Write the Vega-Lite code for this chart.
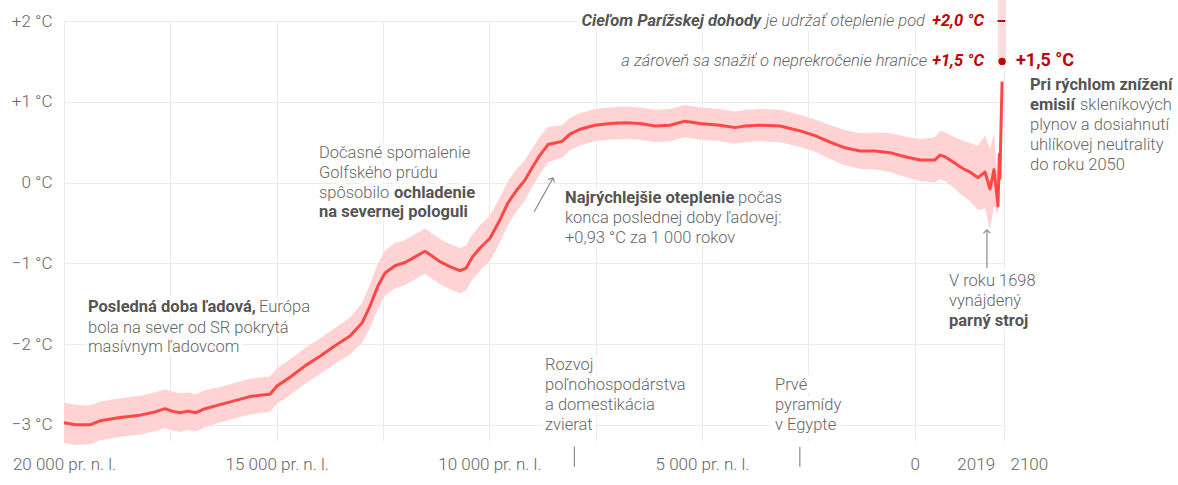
{
  "$schema": "https://vega.github.io/schema/vega-lite/v6.json",
  "autosize": "none",
  "width": 940,
  "height": 420,
  "padding": {"top": 21, "left": 64, "right": 174, "bottom": 44},
  "config": {"font": "Roboto", "view": {"stroke": null}},
  "datasets": {
    "temp": [
      {"year": -20000, "t": -2.975, "lo": -3.225, "hi": -2.725},
      {"year": -19741, "t": -3.0, "lo": -3.25, "hi": -2.75},
      {"year": -19389, "t": -3.0, "lo": -3.24, "hi": -2.76},
      {"year": -19154, "t": -2.95, "lo": -3.19, "hi": -2.71},
      {"year": -18683, "t": -2.91, "lo": -3.15, "hi": -2.67},
      {"year": -18213, "t": -2.88, "lo": -3.12, "hi": -2.64},
      {"year": -17861, "t": -2.84, "lo": -3.08, "hi": -2.6},
      {"year": -17625, "t": -2.8, "lo": -3.04, "hi": -2.56},
      {"year": -17461, "t": -2.83, "lo": -3.07, "hi": -2.59},
      {"year": -17273, "t": -2.85, "lo": -3.09, "hi": -2.61},
      {"year": -17085, "t": -2.83, "lo": -3.06, "hi": -2.6},
      {"year": -16897, "t": -2.85, "lo": -3.08, "hi": -2.62},
      {"year": -16685, "t": -2.8, "lo": -3.03, "hi": -2.57},
      {"year": -16332, "t": -2.75, "lo": -2.97, "hi": -2.53},
      {"year": -15980, "t": -2.7, "lo": -2.92, "hi": -2.48},
      {"year": -15627, "t": -2.65, "lo": -2.87, "hi": -2.43},
      {"year": -15345, "t": -2.63, "lo": -2.85, "hi": -2.41},
      {"year": -15157, "t": -2.62, "lo": -2.84, "hi": -2.4},
      {"year": -14992, "t": -2.52, "lo": -2.74, "hi": -2.3},
      {"year": -14687, "t": -2.41, "lo": -2.63, "hi": -2.19},
      {"year": -14334, "t": -2.27, "lo": -2.49, "hi": -2.05},
      {"year": -13981, "t": -2.15, "lo": -2.37, "hi": -1.93},
      {"year": -13629, "t": -2.02, "lo": -2.24, "hi": -1.8},
      {"year": -13276, "t": -1.9, "lo": -2.13, "hi": -1.67},
      {"year": -12994, "t": -1.74, "lo": -1.99, "hi": -1.49},
      {"year": -12806, "t": -1.53, "lo": -1.8, "hi": -1.26},
      {"year": -12618, "t": -1.28, "lo": -1.56, "hi": -1.0},
      {"year": -12453, "t": -1.12, "lo": -1.4, "hi": -0.84},
      {"year": -12218, "t": -1.03, "lo": -1.31, "hi": -0.75},
      {"year": -11983, "t": -0.99, "lo": -1.27, "hi": -0.71},
      {"year": -11748, "t": -0.92, "lo": -1.2, "hi": -0.64},
      {"year": -11513, "t": -0.85, "lo": -1.13, "hi": -0.57},
      {"year": -11348, "t": -0.91, "lo": -1.19, "hi": -0.63},
      {"year": -11160, "t": -0.98, "lo": -1.26, "hi": -0.7},
      {"year": -10925, "t": -1.04, "lo": -1.32, "hi": -0.76},
      {"year": -10690, "t": -1.09, "lo": -1.37, "hi": -0.81},
      {"year": -10549, "t": -1.06, "lo": -1.34, "hi": -0.78},
      {"year": -10408, "t": -0.93, "lo": -1.21, "hi": -0.65},
      {"year": -10220, "t": -0.81, "lo": -1.09, "hi": -0.53},
      {"year": -9985, "t": -0.69, "lo": -0.97, "hi": -0.41},
      {"year": -9749, "t": -0.46, "lo": -0.74, "hi": -0.18},
      {"year": -9561, "t": -0.25, "lo": -0.52, "hi": 0.02},
      {"year": -9350, "t": -0.09, "lo": -0.35, "hi": 0.17},
      {"year": -9162, "t": 0.03, "lo": -0.22, "hi": 0.28},
      {"year": -8997, "t": 0.18, "lo": -0.06, "hi": 0.42},
      {"year": -8809, "t": 0.34, "lo": 0.11, "hi": 0.57},
      {"year": -8621, "t": 0.47, "lo": 0.25, "hi": 0.69},
      {"year": -8457, "t": 0.49, "lo": 0.28, "hi": 0.7},
      {"year": -8292, "t": 0.51, "lo": 0.31, "hi": 0.71},
      {"year": -8104, "t": 0.6, "lo": 0.4, "hi": 0.8},
      {"year": -7869, "t": 0.66, "lo": 0.46, "hi": 0.86},
      {"year": -7516, "t": 0.71, "lo": 0.51, "hi": 0.91},
      {"year": -7163, "t": 0.73, "lo": 0.53, "hi": 0.93},
      {"year": -6811, "t": 0.74, "lo": 0.54, "hi": 0.94},
      {"year": -6458, "t": 0.73, "lo": 0.53, "hi": 0.93},
      {"year": -6105, "t": 0.7, "lo": 0.5, "hi": 0.9},
      {"year": -5753, "t": 0.71, "lo": 0.51, "hi": 0.91},
      {"year": -5400, "t": 0.76, "lo": 0.56, "hi": 0.96},
      {"year": -5047, "t": 0.73, "lo": 0.53, "hi": 0.93},
      {"year": -4577, "t": 0.71, "lo": 0.51, "hi": 0.91},
      {"year": -4224, "t": 0.68, "lo": 0.48, "hi": 0.88},
      {"year": -3989, "t": 0.7, "lo": 0.5, "hi": 0.9},
      {"year": -3637, "t": 0.71, "lo": 0.51, "hi": 0.91},
      {"year": -3166, "t": 0.7, "lo": 0.5, "hi": 0.9},
      {"year": -2696, "t": 0.64, "lo": 0.44, "hi": 0.84},
      {"year": -2344, "t": 0.58, "lo": 0.38, "hi": 0.78},
      {"year": -1991, "t": 0.5, "lo": 0.29, "hi": 0.71},
      {"year": -1638, "t": 0.43, "lo": 0.21, "hi": 0.65},
      {"year": -1285, "t": 0.39, "lo": 0.17, "hi": 0.61},
      {"year": -933, "t": 0.39, "lo": 0.16, "hi": 0.62},
      {"year": -580, "t": 0.37, "lo": 0.13, "hi": 0.61},
      {"year": -228, "t": 0.32, "lo": 0.07, "hi": 0.57},
      {"year": 125, "t": 0.28, "lo": 0.02, "hi": 0.54},
      {"year": 478, "t": 0.28, "lo": 0.0, "hi": 0.56},
      {"year": 595, "t": 0.34, "lo": 0.04, "hi": 0.64},
      {"year": 713, "t": 0.32, "lo": 0.02, "hi": 0.62},
      {"year": 948, "t": 0.24, "lo": -0.08, "hi": 0.56},
      {"year": 1113, "t": 0.18, "lo": -0.16, "hi": 0.52},
      {"year": 1301, "t": 0.13, "lo": -0.23, "hi": 0.49},
      {"year": 1489, "t": 0.06, "lo": -0.34, "hi": 0.46},
      {"year": 1654, "t": 0.13, "lo": -0.32, "hi": 0.58},
      {"year": 1771, "t": -0.08, "lo": -0.58, "hi": 0.42},
      {"year": 1865, "t": 0.16, "lo": -0.29, "hi": 0.61},
      {"year": 1959, "t": -0.29, "lo": -0.4, "hi": 0.0},
      {"year": 1990, "t": 0.35, "lo": null, "hi": null},
      {"year": 2005, "t": 0.05, "lo": null, "hi": null},
      {"year": 2019, "t": 0.45, "lo": null, "hi": null},
      {"year": 2055, "t": 1.25, "lo": null, "hi": null}
    ],
    "txtRegular": [
      {"x": -15415, "y": -1.54, "text": "Európa"},
      {"x": -19436, "y": -1.8, "text": "bola na sever od SR pokrytá"},
      {"x": -19436, "y": -2.03, "text": "masívnym ľadovcom"},
      {"x": -14005, "y": 0.366, "text": "Dočasné spomalenie"},
      {"x": -14005, "y": 0.119, "text": "Golfského prúdu"},
      {"x": -14005, "y": -0.129, "text": "spôsobilo"},
      {"x": -4154, "y": -0.191, "text": "počas"},
      {"x": -8221, "y": -0.438, "text": "konca poslednej doby ľadovej:"},
      {"x": -8221, "y": -0.686, "text": "+0,93 °C za 1 000 rokov"},
      {"x": -8691, "y": -2.257, "text": "Rozvoj"},
      {"x": -8691, "y": -2.505, "text": "poľnohospodárstva"},
      {"x": -8691, "y": -2.752, "text": "a domestikácia"},
      {"x": -8691, "y": -3.0, "text": "zvierat"},
      {"x": -3284, "y": -2.505, "text": "Prvé"},
      {"x": -3284, "y": -2.752, "text": "pyramídy"},
      {"x": -3284, "y": -3.0, "text": "v Egypte"},
      {"x": 807, "y": -1.218, "text": "V roku 1698"},
      {"x": 807, "y": -1.465, "text": "vynájdený"},
      {"x": 3887, "y": 0.96, "text": "skleníkových"},
      {"x": 2711, "y": 0.713, "text": "plynov a dosiahnutí"},
      {"x": 2711, "y": 0.465, "text": "uhlíkovej neutrality"},
      {"x": 2711, "y": 0.218, "text": "do roku 2050"}
    ],
    "txtBold": [
      {"x": -19436, "y": -1.54, "text": "Posledná doba ľadová,"},
      {"x": -12242, "y": -0.129, "text": "ochladenie"},
      {"x": -14005, "y": -0.364, "text": "na severnej pologuli"},
      {"x": -8221, "y": -0.191, "text": "Najrýchlejšie oteplenie"},
      {"x": 807, "y": -1.713, "text": "parný stroj"},
      {"x": 2711, "y": 1.208, "text": "Pri rýchlom znížení"},
      {"x": 2711, "y": 0.96, "text": "emisií"}
    ],
    "txtItalic": [
      {"x": 243, "y": 2.0, "text": "je udržať oteplenie pod"},
      {"x": 290, "y": 1.5, "text": "a zároveň sa snažiť o neprekročenie hranice"}
    ],
    "txtBoldItalic": [
      {"x": -3613, "y": 2.0, "text": "Cieľom Parížskej dohody"}
    ],
    "txtRedItalic": [
      {"x": 1630, "y": 2.0, "text": "+2,0 °C"},
      {"x": 1630, "y": 1.5, "text": "+1,5 °C"}
    ],
    "txtRedBig": [
      {"x": 2382, "y": 1.5, "text": "+1,5 °C"}
    ],
    "arrows": [
      {"x": -8950, "y": -0.364, "x2": -8503, "y2": 0.057, "angle": 29},
      {"x": 1698, "y": -1.057, "x2": 1698, "y2": -0.587, "angle": 0}
    ],
    "markers": [
      {"x": -8000, "y": -3.27, "y2": -3.52},
      {"x": -2700, "y": -3.27, "y2": -3.52}
    ]
  },
  "encoding": {
    "x": {"type": "quantitative", "scale": {"domain": [-20000, 2100], "nice": false, "zero": false}},
    "y": {"type": "quantitative", "scale": {"domain": [-3.2, 2], "nice": false, "zero": false}}
  },
  "layer": [
    {
      "data": {"values": [{"a": 0}]},
      "mark": {"type": "rule", "opacity": 0},
      "encoding": {
        "x": {"datum": -20000, "type": "quantitative",
          "axis": {
            "values": [-20000, -17500, -15000, -12500, -10000, -7500, -5000, -2500, 0, 2019, 2100],
            "labelExpr": "datum.value == 2019 ? '2019' : (datum.value == 2100 ? '2100' : (datum.value == 0 ? '0' : (datum.value % 5000 == 0 ? replace(format(-datum.value, ','), ',', ' ') + ' pr. n. l.' : '')))",
            "labelAlign": {"condition": [{"test": "datum.value == 2019", "value": "right"}, {"test": "datum.value == 2100", "value": "left"}], "value": "center"},
            "labelOffset": {"condition": [{"test": "datum.value == 2019", "value": -6}, {"test": "datum.value == 2100", "value": 6}], "value": 0},
            "labelFlush": false,
            "labelOverlap": false,
            "labelBound": false,
            "title": null,
            "domain": false,
            "ticks": false,
            "labelPadding": 15,
            "labelFontSize": 17,
            "labelColor": "#666666",
            "labelFontWeight": 300,
            "grid": true,
            "gridColor": "#ebebeb",
            "gridOpacity": {"condition": {"test": "datum.value == 2019", "value": 0}, "value": 1}
          }
        },
        "y": {"datum": 0, "type": "quantitative",
          "axis": {
            "values": [-3, -2, -1, 0, 1, 2],
            "labelExpr": "datum.value > 0 ? '+' + datum.value + ' °C' : (datum.value < 0 ? '−' + (-datum.value) + ' °C' : '0 °C')",
            "title": null,
            "domain": false,
            "ticks": false,
            "labelPadding": 12,
            "labelFontSize": 17,
            "labelColor": "#666666",
            "labelFontWeight": 300,
            "grid": true,
            "gridColor": "#ebebeb"
          }
        }
      }
    },
    {"data": {"name": "txtRegular"}, "mark": {"type": "text", "align": "left", "baseline": "middle", "fontSize": 16.5, "fontWeight": 300, "stroke": "white", "strokeWidth": 9, "strokeJoin": "round", "color": "white"}, "encoding": {"x": {"field": "x"}, "y": {"field": "y"}, "text": {"field": "text"}}},
    {"data": {"name": "txtBold"}, "mark": {"type": "text", "align": "left", "baseline": "middle", "fontSize": 16.5, "fontWeight": "bold", "stroke": "white", "strokeWidth": 9, "strokeJoin": "round", "color": "white"}, "encoding": {"x": {"field": "x"}, "y": {"field": "y"}, "text": {"field": "text"}}},
    {"data": {"name": "txtItalic"}, "mark": {"type": "text", "align": "right", "baseline": "middle", "fontSize": 16.5, "fontWeight": 300, "fontStyle": "italic", "stroke": "white", "strokeWidth": 9, "strokeJoin": "round", "color": "white"}, "encoding": {"x": {"field": "x"}, "y": {"field": "y"}, "text": {"field": "text"}}},
    {"data": {"name": "txtBoldItalic"}, "mark": {"type": "text", "align": "right", "baseline": "middle", "fontSize": 16.5, "fontWeight": "bold", "fontStyle": "italic", "stroke": "white", "strokeWidth": 9, "strokeJoin": "round", "color": "white"}, "encoding": {"x": {"field": "x"}, "y": {"field": "y"}, "text": {"field": "text"}}},
    {"data": {"name": "txtRedItalic"}, "mark": {"type": "text", "align": "right", "baseline": "middle", "fontSize": 16.5, "fontWeight": "bold", "fontStyle": "italic", "stroke": "white", "strokeWidth": 9, "strokeJoin": "round", "color": "white"}, "encoding": {"x": {"field": "x"}, "y": {"field": "y"}, "text": {"field": "text"}}},
    {
      "data": {"values": [{"x": 1959, "x2": 2147, "y": 1.5, "y2": 2.26}]},
      "mark": {"type": "rect", "color": "#f9dcdc", "clip": false},
      "encoding": {"x": {"field": "x"}, "x2": {"field": "x2"}, "y": {"field": "y"}, "y2": {"field": "y2"}}
    },
    {
      "data": {"name": "temp"},
      "mark": {"type": "area", "color": "#ffd3d3", "opacity": 1},
      "encoding": {"x": {"field": "year"}, "y": {"field": "lo"}, "y2": {"field": "hi"}}
    },
    {
      "data": {"name": "temp"},
      "mark": {"type": "line", "color": "#ff4747", "strokeWidth": 3, "strokeJoin": "round"},
      "encoding": {"x": {"field": "year"}, "y": {"field": "t"}}
    },
    {
      "data": {"name": "arrows"},
      "mark": {"type": "rule", "color": "#8a8a8a", "strokeWidth": 1.2},
      "encoding": {"x": {"field": "x"}, "y": {"field": "y"}, "x2": {"field": "x2"}, "y2": {"field": "y2"}}
    },
    {
      "data": {"name": "arrows"},
      "mark": {"type": "point", "shape": "M-0.7,0.7L0,0L0.7,0.7", "filled": false, "color": "#8a8a8a", "strokeWidth": 1.2, "size": 100, "opacity": 1},
      "encoding": {"x": {"field": "x2"}, "y": {"field": "y2"}, "angle": {"field": "angle", "type": "quantitative", "scale": null}}
    },
    {
      "data": {"name": "markers"},
      "mark": {"type": "rule", "color": "#8a8a8a", "strokeWidth": 1.2, "clip": false},
      "encoding": {"x": {"field": "x"}, "y": {"field": "y"}, "y2": {"field": "y2"}}
    },
    {
      "data": {"values": [{"x": 1950, "x2": 2130, "y": 2.0}]},
      "mark": {"type": "rule", "color": "#c20000", "strokeWidth": 2},
      "encoding": {"x": {"field": "x"}, "x2": {"field": "x2"}, "y": {"field": "y"}}
    },
    {
      "data": {"values": [{"x": 2055, "y": 1.5}]},
      "mark": {"type": "point", "filled": true, "color": "#c20000", "size": 55, "opacity": 1},
      "encoding": {"x": {"field": "x"}, "y": {"field": "y"}}
    },
    {"data": {"name": "txtRegular"}, "mark": {"type": "text", "align": "left", "baseline": "middle", "fontSize": 16.5, "fontWeight": 300, "color": "#666666"}, "encoding": {"x": {"field": "x"}, "y": {"field": "y"}, "text": {"field": "text"}}},
    {"data": {"name": "txtBold"}, "mark": {"type": "text", "align": "left", "baseline": "middle", "fontSize": 16.5, "fontWeight": "bold", "color": "#555555"}, "encoding": {"x": {"field": "x"}, "y": {"field": "y"}, "text": {"field": "text"}}},
    {"data": {"name": "txtItalic"}, "mark": {"type": "text", "align": "right", "baseline": "middle", "fontSize": 16.5, "fontWeight": 300, "fontStyle": "italic", "color": "#666666"}, "encoding": {"x": {"field": "x"}, "y": {"field": "y"}, "text": {"field": "text"}}},
    {"data": {"name": "txtBoldItalic"}, "mark": {"type": "text", "align": "right", "baseline": "middle", "fontSize": 16.5, "fontWeight": "bold", "fontStyle": "italic", "color": "#555555"}, "encoding": {"x": {"field": "x"}, "y": {"field": "y"}, "text": {"field": "text"}}},
    {"data": {"name": "txtRedItalic"}, "mark": {"type": "text", "align": "right", "baseline": "middle", "fontSize": 16.5, "fontWeight": "bold", "fontStyle": "italic", "color": "#c20000"}, "encoding": {"x": {"field": "x"}, "y": {"field": "y"}, "text": {"field": "text"}}},
    {"data": {"name": "txtRedBig"}, "mark": {"type": "text", "align": "left", "baseline": "middle", "fontSize": 18, "fontWeight": "bold", "color": "#c20000"}, "encoding": {"x": {"field": "x"}, "y": {"field": "y"}, "text": {"field": "text"}}}
  ]
}
